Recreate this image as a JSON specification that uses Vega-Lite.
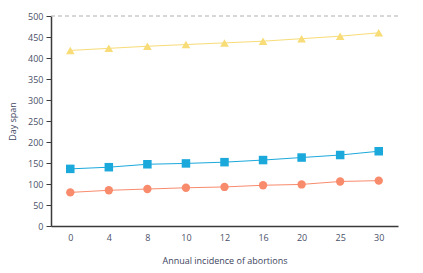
{
  "$schema": "https://vega.github.io/schema/vega-lite/v6.json",
  "width": 347,
  "height": 210,
  "autosize": {"type": "none"},
  "padding": {"left": 51, "top": 16, "right": 25, "bottom": 47},
  "background": "white",
  "config": {
    "view": {"stroke": null},
    "font": "Open Sans",
    "axis": {"labelFont": "Open Sans", "titleFont": "Open Sans", "labelColor": "#4a5068", "titleColor": "#3d4460", "labelFontSize": 9, "titleFontSize": 9, "titleFontWeight": "normal", "grid": false},
    "axisY": {"labelOverlap": false, "tickCount": 10}
  },
  "datasets": {
    "pts": [
      {"x": "0", "s": "A", "y": 418}, {"x": "4", "s": "A", "y": 423}, {"x": "8", "s": "A", "y": 428}, {"x": "10", "s": "A", "y": 432}, {"x": "12", "s": "A", "y": 436}, {"x": "16", "s": "A", "y": 440}, {"x": "20", "s": "A", "y": 446}, {"x": "25", "s": "A", "y": 452}, {"x": "30", "s": "A", "y": 460},
      {"x": "0", "s": "B", "y": 136}, {"x": "4", "s": "B", "y": 140}, {"x": "8", "s": "B", "y": 147}, {"x": "10", "s": "B", "y": 149}, {"x": "12", "s": "B", "y": 152}, {"x": "16", "s": "B", "y": 157}, {"x": "20", "s": "B", "y": 163}, {"x": "25", "s": "B", "y": 169}, {"x": "30", "s": "B", "y": 178},
      {"x": "0", "s": "C", "y": 80}, {"x": "4", "s": "C", "y": 85}, {"x": "8", "s": "C", "y": 88}, {"x": "10", "s": "C", "y": 91}, {"x": "12", "s": "C", "y": 93}, {"x": "16", "s": "C", "y": 97}, {"x": "20", "s": "C", "y": 99}, {"x": "25", "s": "C", "y": 106}, {"x": "30", "s": "C", "y": 108}
    ],
    "ref": [{"y": 500}]
  },
  "encoding": {
    "y": {"field": "y", "type": "quantitative", "scale": {"domain": [0, 500]},
          "axis": {"title": "Day span", "tickCount": 10, "labelOverlap": false, "domainColor": "#3a3a3a", "domainWidth": 1.5, "tickColor": "#3a3a3a", "tickSize": 5, "labelPadding": 3, "titlePadding": 10}}
  },
  "layer": [
    {
      "data": {"name": "ref"},
      "mark": {"type": "rule", "color": "#b0b0b0", "strokeDash": [4, 3], "strokeWidth": 1},
      "encoding": {}
    },
    {
      "data": {"name": "pts"},
      "mark": {"type": "line", "strokeWidth": 1},
      "encoding": {
        "x": {"field": "x", "type": "ordinal", "sort": null, "scale": {"type": "point", "padding": 0.5},
              "axis": {"title": "Annual incidence of abortions", "labelAngle": 0, "ticks": false, "domainColor": "#3a3a3a", "domainWidth": 1.5, "labelPadding": 7, "titlePadding": 14}},
        "color": {"field": "s", "type": "nominal", "scale": {"domain": ["A", "B", "C"], "range": ["#f7dc77", "#1ba9dc", "#f98b6d"]}, "legend": null}
      }
    },
    {
      "data": {"name": "pts"},
      "mark": {"type": "point", "filled": true, "opacity": 1},
      "encoding": {
        "x": {"field": "x", "type": "ordinal", "sort": null},
        "color": {"field": "s", "type": "nominal", "scale": {"domain": ["A", "B", "C"], "range": ["#f4d24f", "#09aee3", "#fa8a6a"]}, "legend": null},
        "shape": {"field": "s", "type": "nominal", "scale": {"domain": ["A", "B", "C"], "range": ["triangle-up", "square", "circle"]}, "legend": null},
        "size": {"field": "s", "type": "nominal", "scale": {"domain": ["A", "B", "C"], "range": [75, 70, 42]}, "legend": null}
      }
    }
  ]
}
